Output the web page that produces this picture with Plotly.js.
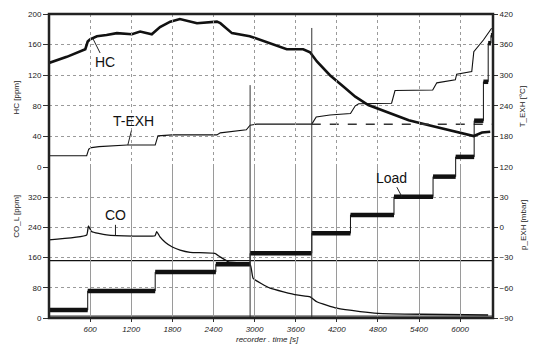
<!DOCTYPE html>
<html>
<head>
<meta charset="utf-8">
<script src="https://cdn.plot.ly/plotly-3.0.1.min.js"></script>
<style>html,body{margin:0;padding:0;background:#fff;}#chart{width:535px;height:345px;}</style>
</head>
<body>
<div id="chart"></div>
<script>
// ---- data ----
const timeHC = [0, 260, 530, 565, 600, 700, 840, 990, 1210, 1330, 1500, 1620, 1770, 1860, 1910, 2160, 2450, 2500, 2670, 2930, 3230, 3470, 3710, 3810, 3910, 4100, 4300, 4470, 4660, 4950, 5250, 5440, 5730, 6070, 6200, 6320, 6440];
const hcPpm  = [136, 144, 154, 164, 167, 171, 172.5, 175, 173.5, 177, 173.5, 183, 190, 192, 193.5, 188, 190, 188, 175, 171, 162, 154, 154, 150, 138, 120, 105, 92, 81, 71, 61, 57, 51, 44, 40.5, 45, 46];

const timeT = [0, 550, 580, 620, 730, 1140, 1550, 1590, 1800, 2450, 2500, 2880, 2935, 3030, 3835, 3890, 3900, 4100, 4400, 4470, 4520, 5000, 5050, 5600, 5660, 5930, 5950, 6170, 6200, 6340, 6460];
const tExh  = [142, 142, 155, 158, 160, 163, 163, 181, 183, 183, 187, 193, 202, 204, 204, 215, 218, 222, 225, 240, 244, 245, 270, 271, 285, 291, 302, 307, 346, 369, 392];

const refT = [3835, 6480];
const refTemp = [204, 204];

const timeCO = [0, 550, 575, 620, 840, 1230, 1548, 1572, 1620, 1700, 1800, 1913, 2060, 2420, 2497, 2620, 2935, 2980, 3227, 3616, 3811, 3908, 4200, 4541, 4803, 5441, 6409];
const coPpm  = [207, 220, 244, 229, 220, 217, 218, 229, 215, 200, 188, 180, 174, 171, 162, 149, 142, 105, 79, 61, 56, 43, 26, 17, 12.4, 10, 8];

const timeP = [0, 6480];
const pExh = [-33, -33];

const baseT = [0, 6480];
const baseCO = [3, 3];

// Load (relative %, drawn across both panels)
const loadT = [0, 565, 1550, 2435, 2935, 3835, 4400, 5035, 5605, 5935, 6205, 6340, 6410, 6450, 6470];
const loadV = [2.6, 8.9, 15.1, 17.7, 21.3, 27.9, 33.9, 39.9, 46.5, 53, 64.9, 77.7, 90.4, 93, 93];

const spikeT = [2935, 3835];
const spikeTop = [76.6, 95.4];

const xTicks = [600, 1200, 1800, 2400, 3000, 3600, 4200, 4800, 5400, 6000];
const hcTicks = [0, 40, 80, 120, 160, 200];
const coTicks = [0, 80, 160, 240, 320];
const tTicks = [120, 180, 240, 300, 360, 420];
const pTicks = [-90, -60, -30, 0, 30];

// ---- build ----
const segX = [], segY = [];
for (let i = 0; i < loadT.length - 1; i++) {
  segX.push(loadT[i], loadT[i + 1], null);
  segY.push(loadV[i], loadV[i], null);
}
const spX = [], spY = [];
for (let i = 0; i < spikeT.length; i++) {
  spX.push(spikeT[i], spikeT[i], null);
  spY.push(0, spikeTop[i], null);
}

const K = '#111';
const traces = [
  {x: baseT, y: baseCO, xaxis: 'x', yaxis: 'y', mode: 'lines', line: {color: '#777', width: 3}, hoverinfo: 'skip'},
  {x: timeP, y: pExh, xaxis: 'x', yaxis: 'y2', mode: 'lines', line: {color: K, width: 1.3}},
  {x: timeCO, y: coPpm, xaxis: 'x', yaxis: 'y', mode: 'lines', line: {color: K, width: 1.3, shape: 'spline', smoothing: 0.4}},
  {x: timeHC, y: hcPpm, xaxis: 'x', yaxis: 'y3', mode: 'lines', line: {color: K, width: 2.6}},
  {x: timeT, y: tExh, xaxis: 'x', yaxis: 'y4', mode: 'lines', line: {color: K, width: 1.1}},
  {x: refT, y: refTemp, xaxis: 'x', yaxis: 'y4', mode: 'lines', line: {color: '#333', width: 1.5, dash: 'dash'}},
  {x: loadT, y: loadV, xaxis: 'x', yaxis: 'y5', mode: 'lines', line: {color: K, width: 1, shape: 'hv'}},
  {x: segX, y: segY, xaxis: 'x', yaxis: 'y5', mode: 'lines', line: {color: K, width: 4.5}},
  {x: spX, y: spY, xaxis: 'x', yaxis: 'y5', mode: 'lines', line: {color: '#333', width: 1}}
];

const split = 151 / 304;
const tickFont = {family: 'Liberation Sans, Arial, sans-serif', size: 8, color: '#222'};
const grid = {showgrid: true, gridcolor: '#9a9a9a', griddash: 'dot', gridwidth: 1};
const labFont = {family: 'Liberation Sans, Arial, sans-serif', size: 14, color: '#111'};
const titFont = {family: 'Liberation Sans, Arial, sans-serif', size: 8, color: '#222'};

const layout = {
  width: 535, height: 345,
  margin: {l: 49, r: 42, t: 14, b: 27},
  paper_bgcolor: '#fff', plot_bgcolor: 'rgba(0,0,0,0)',
  showlegend: false,
  xaxis: Object.assign({domain: [0, 1], range: [0, 6480], anchor: 'y', tickvals: xTicks, ticktext: xTicks.map(String),
    ticks: 'outside', ticklen: 3, tickcolor: '#333', tickfont: Object.assign({}, tickFont, {style: 'italic'}),
    showline: false, zeroline: false}, grid),
  yaxis: Object.assign({domain: [0, split], range: [0, 400], anchor: 'x', tickvals: coTicks,
    ticks: 'outside', ticklen: 5, tickcolor: '#333', tickfont: tickFont, zeroline: false, showline: false}, grid),
  yaxis2: {overlaying: 'y', side: 'right', range: [-90, 60], tickvals: pTicks, anchor: 'x',
    ticks: 'outside', ticklen: 4, tickcolor: '#333', tickfont: tickFont, showgrid: false, zeroline: false, showline: false},
  yaxis3: Object.assign({domain: [split, 1], range: [0, 200], anchor: 'x', tickvals: hcTicks,
    ticks: 'outside', ticklen: 5, tickcolor: '#333', tickfont: tickFont, zeroline: false, showline: false}, grid),
  yaxis4: {overlaying: 'y3', side: 'right', range: [120, 420], tickvals: tTicks, anchor: 'x',
    ticks: 'outside', ticklen: 4, tickcolor: '#333', tickfont: tickFont, showgrid: false, zeroline: false, showline: false},
  yaxis5: {domain: [0, 1], range: [0, 100], anchor: 'x', visible: false, showgrid: false, zeroline: false},
  shapes: [
    {type: 'rect', xref: 'paper', yref: 'paper', x0: 0, x1: 1, y0: 0, y1: 1, line: {color: '#222', width: 2.5}}
  ],
  annotations: [
    {xref: 'paper', yref: 'paper', x: -0.088, y: 0.789, text: 'HC [ppm]', textangle: -90, showarrow: false, font: titFont},
    {xref: 'paper', yref: 'paper', x: -0.088, y: 0.257, text: 'CO_L [ppm]', textangle: -90, showarrow: false, font: titFont},
    {xref: 'paper', yref: 'paper', x: 1.082, y: 0.77, text: 'T_EXH [°C]', textangle: -90, showarrow: false, font: titFont},
    {xref: 'paper', yref: 'paper', x: 1.082, y: 0.217, text: 'p_EXH [mbar]', textangle: -90, showarrow: false, font: titFont},
    {xref: 'paper', yref: 'paper', x: 0.493, y: -0.0885, yanchor: 'bottom', borderpad: 0, text: 'recorder . time [s]', showarrow: false, font: Object.assign({}, titFont, {style: 'italic'})},
    {x: 640, y: 168, xref: 'x', yref: 'y3', text: 'HC', showarrow: true, arrowhead: 0, arrowwidth: 1, arrowcolor: '#222', ax: 12, ay: 24, font: labFont},
    {x: 1150, y: 163, xref: 'x', yref: 'y4', text: 'T-EXH', showarrow: true, arrowhead: 0, arrowwidth: 1, arrowcolor: '#222', ax: 6, ay: -24, font: labFont},
    {x: 970, y: 219, xref: 'x', yref: 'y', text: 'CO', showarrow: true, arrowhead: 0, arrowwidth: 1, arrowcolor: '#222', ax: 0, ay: -20, font: labFont},
    {x: 5150, y: 39.9, xref: 'x', yref: 'y5', text: 'Load', showarrow: true, arrowhead: 0, arrowwidth: 1, arrowcolor: '#222', ax: -10, ay: -19, font: labFont}
  ]
};

Plotly.newPlot('chart', traces, layout, {displayModeBar: false, staticPlot: true});
</script>
</body>
</html>
